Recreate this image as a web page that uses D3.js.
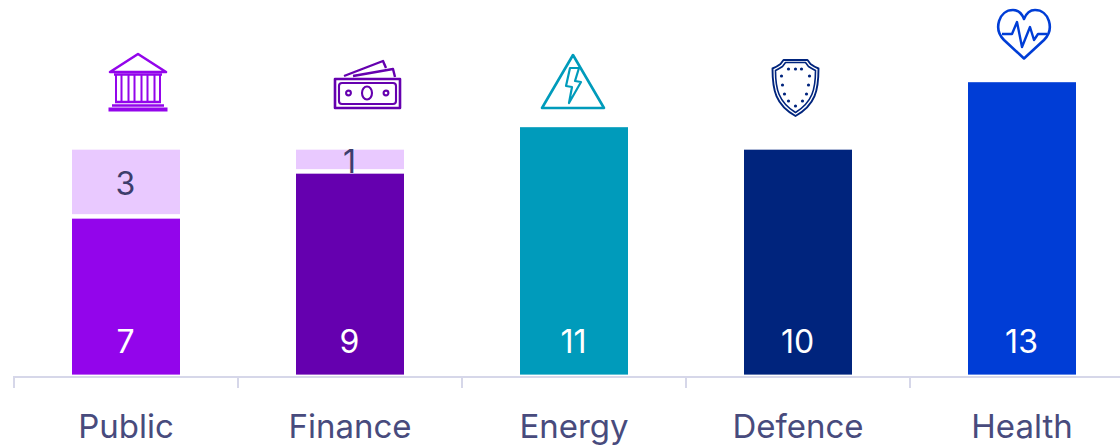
<!DOCTYPE html>
<meta charset="utf-8">
<style>
html, body { margin: 0; padding: 0; background: #fff; }
svg { display: block; }
text { font-family: Inter, "Noto Sans", sans-serif; }
.cat { font-size: 33px; fill: #484b7d; text-anchor: middle; }
.val { font-size: 32px; text-anchor: middle; }
.domain, .tick line { stroke: #d6d7e9; stroke-width: 2; }
.icon * { fill: none; stroke-linejoin: round; }
</style>
<body>
<script src="https://d3js.org/d3.v7.min.js"></script>
<script>
var categories = ["Public", "Finance", "Energy", "Defence", "Health"];
var mainValues = [7, 9, 11, 10, 13];
var paleValues = [3, 1, 0, 0, 0];
var barColors = ["#9305eb", "#6500af", "#009bbb", "#00247d", "#003dd6"];
var paleColor = "#e9c9ff";

var width = 1120, height = 446;

var svg = d3.select("body").append("svg")
    .attr("width", width)
    .attr("height", height);

// band scale runs past the right edge, last tick is cut off like the original
var x = d3.scaleBand().domain(categories).range([14, 1134]).paddingInner(0).paddingOuter(0);
var y = d3.scaleLinear().domain([0, 13]).range([374.6, 82.2]);
var barW = 108;
var cx = function(c) { return x(c) + x.bandwidth() / 2; };

// axis: ticks sit on the band edges
var axis = svg.append("g").attr("transform", "translate(0,377)");
axis.append("line").attr("class", "domain").attr("x1", 14).attr("x2", 1134);
axis.selectAll(".tick")
    .data(categories)
  .enter().append("g")
    .attr("class", "tick")
    .append("line")
    .attr("x1", function(d) { return x(d); })
    .attr("x2", function(d) { return x(d); })
    .attr("y1", -1)
    .attr("y2", 11);

svg.selectAll(".cat")
    .data(categories)
  .enter().append("text")
    .attr("class", "cat")
    .attr("x", cx)
    .attr("y", 438)
    .text(function(d) { return d; });

// main bars
svg.selectAll(".bar")
    .data(categories)
  .enter().append("rect")
    .attr("class", "bar")
    .attr("x", function(d) { return cx(d) - barW / 2; })
    .attr("width", barW)
    .attr("y", function(d, i) { return y(mainValues[i]) + (paleValues[i] ? 1.5 : 0); })
    .attr("height", function(d, i) { return y(0) - y(mainValues[i]) - (paleValues[i] ? 1.5 : 0); })
    .attr("fill", function(d, i) { return barColors[i]; });

// pale part on top, small gap above the main bar
var paleCats = categories.filter(function(d, i) { return paleValues[i] > 0; });
svg.selectAll(".pale")
    .data(paleCats)
  .enter().append("rect")
    .attr("class", "pale")
    .attr("x", function(d) { return cx(d) - barW / 2; })
    .attr("width", barW)
    .attr("y", function(d) { var i = categories.indexOf(d); return y(mainValues[i] + paleValues[i]); })
    .attr("height", function(d) { var i = categories.indexOf(d); return y(0) - y(paleValues[i]) - 3; })
    .attr("fill", paleColor);

svg.selectAll(".valMain")
    .data(categories)
  .enter().append("text")
    .attr("class", "val valMain")
    .attr("x", function(d) { return cx(d) - 0.5; })
    .attr("y", 353)
    .attr("fill", "#fff")
    .text(function(d, i) { return mainValues[i]; });

svg.selectAll(".valPale")
    .data(paleCats)
  .enter().append("text")
    .attr("class", "val valPale")
    .attr("x", function(d) { return cx(d) - 0.5; })
    .attr("y", function(d) {
      var i = categories.indexOf(d);
      return (y(mainValues[i] + paleValues[i]) + y(mainValues[i])) / 2 + 12;
    })
    .attr("fill", "#3d3d6b")
    .text(function(d) { return paleValues[categories.indexOf(d)]; });

// icons, drawn around their own centre
function iconPublic(g) {
  var c = barColors[0];
  g.append("path").attr("d", "M-28,-10L0,-28L28,-10Z").attr("stroke", c).attr("stroke-width", 2.6);
  g.append("path").attr("d", "M-24,-7.5H24M-23,20H23M-26,23.5H26").attr("stroke", c).attr("stroke-width", 2.4);
  g.append("path").attr("d", "M-29.5,27.5H29.5").attr("stroke", c).attr("stroke-width", 3.8);
  g.append("path")
    .attr("d", "M-22,-7V20M-16.5,-7V20M-9.5,-7V20M-3.5,-7V20M3.5,-7V20M9.5,-7V20M16.5,-7V20M22,-7V20")
    .attr("stroke", c).attr("stroke-width", 2);
}
function iconMoney(g) {
  var c = barColors[1];
  g.append("rect").attr("x", -32).attr("y", -14).attr("width", 65).attr("height", 29)
    .attr("stroke", c).attr("stroke-width", 2.6);
  g.append("rect").attr("x", -28).attr("y", -10).attr("width", 57).attr("height", 21).attr("rx", 3)
    .attr("stroke", c).attr("stroke-width", 2.1);
  g.append("ellipse").attr("cx", 0).attr("cy", 0).attr("rx", 5).attr("ry", 6.5)
    .attr("stroke", c).attr("stroke-width", 2.1);
  g.append("circle").attr("cx", -18.5).attr("cy", 0).attr("r", 2.4).attr("stroke", c).attr("stroke-width", 2.1);
  g.append("circle").attr("cx", 19).attr("cy", 0).attr("r", 2.4).attr("stroke", c).attr("stroke-width", 2.1);
  g.append("path").attr("d", "M-23,-17L16,-32L19,-25M-14,-17L26,-24L28,-16")
    .attr("stroke", c).attr("stroke-width", 2.4);
}
function iconEnergy(g) {
  var c = barColors[2];
  g.append("path").attr("d", "M0,-26L31,27H-31Z").attr("stroke", c).attr("stroke-width", 2.6);
  g.append("path").attr("d", "M-3,-13H6L2,0L8,1L-4,22L-1,6L-7,5Z").attr("stroke", c).attr("stroke-width", 2.2);
}
function iconDefence(g) {
  var c = barColors[3];
  g.append("path").attr("d", "M-12,-28H12L15,-24Q19,-21 23,-19.5C23,2 20,17 0,28C-20,17 -23,2 -23,-19.5Q-19,-21 -15,-24Z")
    .attr("stroke", c).attr("stroke-width", 1.9);
  g.append("path").attr("d", "M-10,-25.5H10L13,-21.5Q17,-19 20,-17.5C20,1 17,14 0,24.5C-17,14 -20,1 -20,-17.5Q-17,-19 -13,-21.5Z")
    .attr("stroke", c).attr("stroke-width", 1.6);
  var dots = [[-7,-19],[0,-19],[6,-19],[-14,-12],[14,-12],[-13,-3],[13,-3],[-11,6],[11,6],[-7,13],[7,13],[0,18]];
  g.selectAll(".dot").data(dots).enter().append("circle")
    .attr("cx", function(d) { return d[0]; })
    .attr("cy", function(d) { return d[1]; })
    .attr("r", 1.6)
    .style("fill", c)
    .style("stroke", "none");
}
function iconHealth(g) {
  var c = barColors[4];
  g.append("path").attr("d", "M0,24.5L-20,6C-31,-5 -25,-24 -11,-24C-6,-24 -2,-20 0,-15C2,-20 6,-24 11,-24C25,-24 31,-5 20,6Z")
    .attr("stroke", c).attr("stroke-width", 2.6);
  g.append("path").attr("d", "M-22,0H-12L-7,-12L-2,13L6,-7L10,6L14,0H23")
    .attr("stroke", c).attr("stroke-width", 2.4);
}

var icons = [iconPublic, iconMoney, iconEnergy, iconDefence, iconHealth];
var iconDx = [12, 17, -1, -2.5, 2];
var iconY = [82, 93, 81, 88, 34];

categories.forEach(function(d, i) {
  var g = svg.append("g")
      .attr("class", "icon")
      .attr("transform", "translate(" + (cx(d) + iconDx[i]) + "," + iconY[i] + ")");
  icons[i](g);
});
</script>
</body>
